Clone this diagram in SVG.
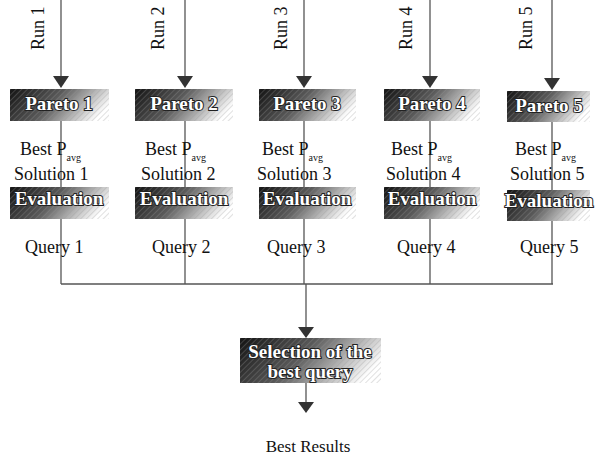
<svg xmlns="http://www.w3.org/2000/svg" width="601" height="461" viewBox="0 0 601 461">
<style>
.lbl{font-family:"Liberation Serif","Times New Roman",serif;font-size:18px;fill:#111}
.sub{font-size:10px}
.bx{font-family:"Liberation Serif","Times New Roman",serif;font-size:19px;font-weight:bold;fill:#fff;stroke:#222;stroke-width:2;paint-order:stroke;text-anchor:middle}
.ln{stroke:#555;stroke-width:1.3;fill:none}
.hd{fill:#333}
</style>
<defs>
<linearGradient id="g" x1="0" y1="0.2" x2="1" y2="0.5">
<stop offset="0" stop-color="#1a1a1a"/>
<stop offset="0.45" stop-color="#5a5a5a"/>
<stop offset="1" stop-color="#fff"/>
</linearGradient>
<pattern id="h" width="4" height="4" patternUnits="userSpaceOnUse" patternTransform="rotate(45)">
<line x1="0" y1="0" x2="0" y2="4" stroke="#999" stroke-width="1" stroke-opacity="0.6"/>
</pattern>
<symbol id="box"><rect width="100%" height="100%" fill="url(#g)"/><rect width="100%" height="100%" fill="url(#h)"/></symbol>
</defs>

<g id="connectors">
<line class="ln" x1="61" y1="0" x2="61" y2="77"/><polygon class="hd" points="53,76 69,76 61,88"/>
<line class="ln" x1="185" y1="0" x2="185" y2="77"/><polygon class="hd" points="177,76 193,76 185,88"/>
<line class="ln" x1="304" y1="0" x2="304" y2="77"/><polygon class="hd" points="296,76 312,76 304,88"/>
<line class="ln" x1="430" y1="0" x2="430" y2="77"/><polygon class="hd" points="422,76 438,76 430,88"/>
<line class="ln" x1="552" y1="0" x2="552" y2="79"/><polygon class="hd" points="544,78 560,78 552,90"/>
<line class="ln" x1="61" y1="121" x2="61" y2="187"/>
<line class="ln" x1="185" y1="121" x2="185" y2="187"/>
<line class="ln" x1="304" y1="121" x2="304" y2="187"/>
<line class="ln" x1="430" y1="121" x2="430" y2="187"/>
<line class="ln" x1="552" y1="122" x2="552" y2="190"/>
<line class="ln" x1="61" y1="218" x2="61" y2="284"/>
<line class="ln" x1="185" y1="218" x2="185" y2="284"/>
<line class="ln" x1="304" y1="218" x2="304" y2="284"/>
<line class="ln" x1="430" y1="218" x2="430" y2="284"/>
<line class="ln" x1="552" y1="221" x2="552" y2="284"/>
<line class="ln" x1="61" y1="284" x2="553" y2="284"/>
<line class="ln" x1="306" y1="284" x2="306" y2="328"/><polygon class="hd" points="298,327 314,327 306,338"/>
<line class="ln" x1="306" y1="383" x2="306" y2="403"/><polygon class="hd" points="298,402 314,402 306,413"/>
</g>

<g id="run-labels" class="lbl">
<text transform="translate(44,50) rotate(-90)">Run 1</text>
<text transform="translate(164,50) rotate(-90)">Run 2</text>
<text transform="translate(287,50) rotate(-90)">Run 3</text>
<text transform="translate(412,50) rotate(-90)">Run 4</text>
<text transform="translate(532,50) rotate(-90)">Run 5</text>
</g>

<g id="pareto1"><svg x="10" y="89" width="99" height="32"><use href="#box"/></svg><text class="bx" x="59" y="110">Pareto 1</text></g>
<g id="pareto2"><svg x="135" y="89" width="98" height="32"><use href="#box"/></svg><text class="bx" x="184" y="110">Pareto 2</text></g>
<g id="pareto3"><svg x="259" y="89" width="97" height="32"><use href="#box"/></svg><text class="bx" x="307" y="110">Pareto 3</text></g>
<g id="pareto4"><svg x="384" y="89" width="96" height="32"><use href="#box"/></svg><text class="bx" x="432" y="110">Pareto 4</text></g>
<g id="pareto5"><svg x="507" y="91" width="83" height="31"><use href="#box"/></svg><text class="bx" x="549" y="112">Pareto 5</text></g>

<g id="sol1" class="lbl"><text x="20" y="155">Best P<tspan class="sub" dy="6">avg</tspan></text><text x="14" y="180">Solution 1</text></g>
<g id="sol2" class="lbl"><text x="145" y="155">Best P<tspan class="sub" dy="6">avg</tspan></text><text x="141" y="180">Solution 2</text></g>
<g id="sol3" class="lbl"><text x="262" y="155">Best P<tspan class="sub" dy="6">avg</tspan></text><text x="257" y="180">Solution 3</text></g>
<g id="sol4" class="lbl"><text x="391" y="155">Best P<tspan class="sub" dy="6">avg</tspan></text><text x="386" y="180">Solution 4</text></g>
<g id="sol5" class="lbl"><text x="515" y="155">Best P<tspan class="sub" dy="6">avg</tspan></text><text x="510" y="180">Solution 5</text></g>

<g id="eval1"><svg x="10" y="187" width="99" height="32"><use href="#box"/></svg><text class="bx" x="59" y="205">Evaluation</text></g>
<g id="eval2"><svg x="135" y="187" width="98" height="32"><use href="#box"/></svg><text class="bx" x="184" y="205">Evaluation</text></g>
<g id="eval3"><svg x="259" y="187" width="97" height="32"><use href="#box"/></svg><text class="bx" x="307" y="205">Evaluation</text></g>
<g id="eval4"><svg x="384" y="187" width="96" height="32"><use href="#box"/></svg><text class="bx" x="432" y="205">Evaluation</text></g>
<g id="eval5"><svg x="507" y="190" width="83" height="31"><use href="#box"/></svg><text class="bx" x="549" y="207">Evaluation</text></g>

<g id="query1" class="lbl"><text x="25" y="253">Query 1</text></g>
<g id="query2" class="lbl"><text x="152" y="253">Query 2</text></g>
<g id="query3" class="lbl"><text x="267" y="253">Query 3</text></g>
<g id="query4" class="lbl"><text x="397" y="253">Query 4</text></g>
<g id="query5" class="lbl"><text x="520" y="253">Query 5</text></g>

<g id="selection"><svg x="240" y="338" width="141" height="45"><use href="#box"/></svg>
<text class="bx" x="310" y="358">Selection of the</text><text class="bx" x="310" y="378">best query</text></g>

<g id="best-results" class="lbl"><text x="308" y="452" text-anchor="middle" style="font-size:17px">Best Results</text></g>
</svg>
